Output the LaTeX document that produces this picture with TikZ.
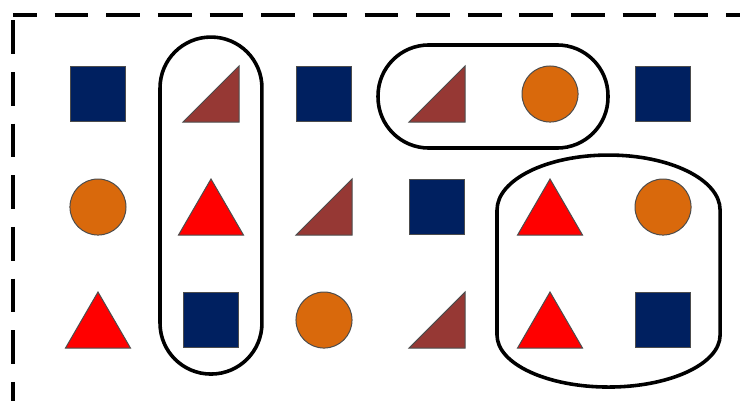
\documentclass[tikz,border=0pt]{standalone}
\usepackage{tikz}

\definecolor{azulmarino}{RGB}{0,32,96}
\definecolor{granate}{RGB}{150,56,52}
\definecolor{naranja}{RGB}{217,105,12}

\begin{document}
\begin{tikzpicture}[x=2cm, y=2cm,
    figura/.style={draw=black!70, line width=0.5pt},
    cuadrado/.style={figura, fill=azulmarino},
    circulo/.style={figura, fill=naranja},
    triangulo/.style={figura, fill=red},
    escuadra/.style={figura, fill=granate},
    grupo/.style={line width=1.8pt},
    borde/.style={line width=2pt, dash pattern=on 17pt off 9pt}]

    \useasboundingbox (0.133,0.292) rectangle (6.681,3.832);
    \clip (0.133,0.292) rectangle (6.681,3.832);

    % -----------------------------------------------------
    % 1) Marco discontinuo (cortado a la derecha y abajo)
    % -----------------------------------------------------
    \draw[borde, dash phase=5pt] (0.248,3.695) -- (6.9,3.695);
    \draw[borde, dash phase=23.5pt] (0.248,3.695) -- (0.248,0.267);
    \draw[borde] (0.248,0.267) -- (6.9,0.267);

    % -----------------------------------------------------
    % 2) Fila de arriba (y = 3)
    % -----------------------------------------------------
    \filldraw[cuadrado] (0.76,2.76) rectangle (1.24,3.24);
    \filldraw[escuadra] (2.248,2.752) -- (2.248,3.248) -- (1.752,2.752) -- cycle;
    \filldraw[cuadrado] (2.76,2.76) rectangle (3.24,3.24);
    \filldraw[escuadra] (4.248,2.752) -- (4.248,3.248) -- (3.752,2.752) -- cycle;
    \filldraw[circulo] (5,3) circle (0.248);
    \filldraw[cuadrado] (5.76,2.76) rectangle (6.24,3.24);

    % -----------------------------------------------------
    % 3) Fila del medio (y = 2)
    % -----------------------------------------------------
    \filldraw[circulo] (1,2) circle (0.248);
    \filldraw[triangulo] (1.7125,1.752) -- (2.2875,1.752) -- (2,2.248) -- cycle;
    \filldraw[escuadra] (3.248,1.752) -- (3.248,2.248) -- (2.752,1.752) -- cycle;
    \filldraw[cuadrado] (3.76,1.76) rectangle (4.24,2.24);
    \filldraw[triangulo] (4.7125,1.752) -- (5.2875,1.752) -- (5,2.248) -- cycle;
    \filldraw[circulo] (6,2) circle (0.248);

    % -----------------------------------------------------
    % 4) Fila de abajo (y = 1)
    % -----------------------------------------------------
    \filldraw[triangulo] (0.7125,0.752) -- (1.2875,0.752) -- (1,1.248) -- cycle;
    \filldraw[cuadrado] (1.76,0.76) rectangle (2.24,1.24);
    \filldraw[circulo] (3,1) circle (0.248);
    \filldraw[escuadra] (4.248,0.752) -- (4.248,1.248) -- (3.752,0.752) -- cycle;
    \filldraw[triangulo] (4.7125,0.752) -- (5.2875,0.752) -- (5,1.248) -- cycle;
    \filldraw[cuadrado] (5.76,0.76) rectangle (6.24,1.24);

    % -----------------------------------------------------
    % 5) Grupos: columna 2, par de arriba y bloque 2x2
    % -----------------------------------------------------
    \draw[grupo, rounded corners=0.9cm] (1.549,0.522) rectangle (2.451,3.504);
    \draw[grupo, rounded corners=0.9cm] (3.478,2.522) rectangle (5.513,3.434);
    \draw[grupo]
        (4.531,1.973) arc[start angle=180, end angle=0, x radius=0.987, y radius=0.487]
        -- (6.505,0.867) arc[start angle=0, end angle=-180, x radius=0.987, y radius=0.46]
        -- cycle;

\end{tikzpicture}
\end{document}
